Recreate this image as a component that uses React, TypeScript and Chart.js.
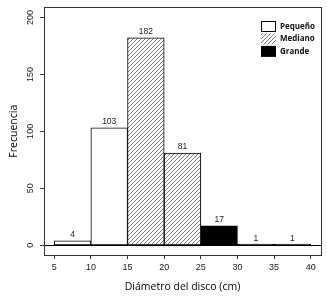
import React, { useEffect, useRef } from "react";
import { Chart, registerables } from "chart.js";

Chart.register(...registerables);

const BIN_STARTS = [5, 10, 15, 20, 25, 30, 35];
const BIN_WIDTH = 5;
const PEQUENO: (number | null)[] = [4, 103, null, null, null, null, null];
const MEDIANO: (number | null)[] = [null, null, 182, 81, null, null, null];
const GRANDE: (number | null)[] = [null, null, null, null, 17, 1, 1];
const SERIES_LABELS = ["Pequeño", "Mediano", "Grande"];
const X_TICKS = [5, 10, 15, 20, 25, 30, 35, 40];
const Y_TICKS = [0, 50, 100, 150, 200];
const X_TITLE = "Diámetro del disco (cm)";
const Y_TITLE = "Frecuencia";

const TICK_FONT = '"Liberation Sans", Arial, sans-serif';
const TITLE_FONT = '"Open Sans", "Noto Sans", sans-serif';

function toPoints(arr: (number | null)[]) {
  const pts: { x: number; y: number }[] = [];
  arr.forEach((v, i) => {
    if (v !== null) pts.push({ x: BIN_STARTS[i] + BIN_WIDTH / 2, y: v });
  });
  return pts;
}

function makeHatch(): CanvasPattern | string {
  const c = document.createElement("canvas");
  const s = 4;
  c.width = s;
  c.height = s;
  const g = c.getContext("2d");
  if (!g) return "#ccc";
  g.fillStyle = "#fff";
  g.fillRect(0, 0, s, s);
  g.strokeStyle = "#444";
  g.lineWidth = 0.7;
  g.beginPath();
  for (let k = -1; k <= 2; k++) {
    const c0 = k * s;
    g.moveTo(c0 - s, s * 2);
    g.lineTo(c0 + s * 2, -s);
  }
  g.stroke();
  const p = g.createPattern(c, "repeat");
  return p || "#ccc";
}

export default function App() {
  const ref = useRef<HTMLCanvasElement | null>(null);

  useEffect(() => {
    if (!ref.current) return;
    const hatch = makeHatch();
    const fills = ["#ffffff", hatch, "#000000"];

    const zeroLine = {
      id: "zeroLine",
      beforeDatasetsDraw(chart: any) {
        const { ctx, chartArea, scales } = chart;
        const y = Math.round(scales.y.getPixelForValue(0)) + 0.5;
        ctx.save();
        ctx.strokeStyle = "#000";
        ctx.lineWidth = 1;
        ctx.beginPath();
        ctx.moveTo(chartArea.left, y);
        ctx.lineTo(chartArea.right, y);
        ctx.stroke();
        ctx.restore();
      },
    };

    const valueLabels = {
      id: "valueLabels",
      afterDatasetsDraw(chart: any) {
        const { ctx } = chart;
        ctx.save();
        ctx.fillStyle = "#222";
        ctx.font = `8.5px ${TICK_FONT}`;
        ctx.textAlign = "center";
        ctx.textBaseline = "middle";
        chart.data.datasets.forEach((ds: any, di: number) => {
          const meta = chart.getDatasetMeta(di);
          meta.data.forEach((el: any, i: number) => {
            const v = ds.data[i].y;
            ctx.fillText(String(v), el.x, el.y - 6);
          });
        });
        ctx.restore();
      },
    };

    const frameAndLegend = {
      id: "frameAndLegend",
      afterDraw(chart: any) {
        const { ctx, chartArea } = chart;
        ctx.save();
        ctx.strokeStyle = "#333";
        ctx.lineWidth = 1;
        const l = Math.round(chartArea.left) + 0.5;
        const t = Math.round(chartArea.top) + 0.5;
        const r = Math.round(chartArea.right) + 0.5;
        const b = Math.round(chartArea.bottom) + 0.5;
        ctx.strokeRect(l, t, r - l, b - t);

        // legend
        const sx = chartArea.right - 60;
        const sw = 15;
        const sh = 11;
        const rowGap = 12.5;
        const y0 = chartArea.top + 13.5;
        ctx.font = `bold 8px ${TITLE_FONT}`;
        ctx.textAlign = "left";
        ctx.textBaseline = "middle";
        SERIES_LABELS.forEach((lab, i) => {
          const yy = y0 + i * rowGap;
          ctx.fillStyle = fills[i] as any;
          ctx.fillRect(sx, yy, sw, sh);
          if (i === 0) {
            ctx.strokeStyle = "#000";
            ctx.strokeRect(Math.round(sx) + 0.5, Math.round(yy) + 0.5, sw - 1, sh - 1);
          }
          ctx.fillStyle = "#111";
          ctx.fillText(lab, sx + sw + 4, yy + sh / 2);
        });
        ctx.restore();
      },
    };

    const chart = new Chart(ref.current, {
      type: "bar",
      data: {
        datasets: [PEQUENO, MEDIANO, GRANDE].map((arr, i) => ({
          label: SERIES_LABELS[i],
          data: toPoints(arr) as any,
          backgroundColor: fills[i] as any,
          borderColor: "#000",
          borderWidth: 1,
          borderSkipped: false,
          barPercentage: 1,
          categoryPercentage: 1,
          grouped: false,
        })),
      },
      options: {
        animation: false,
        responsive: false,
        maintainAspectRatio: false,
        events: [],
        layout: { padding: { top: 7, right: 6, left: 0, bottom: 0 } },
        plugins: {
          legend: { display: false },
          tooltip: { enabled: false },
        },
        scales: {
          x: {
            type: "linear",
            min: 3.6,
            max: 41.4,
            offset: false,
            afterBuildTicks: (s: any) => {
              s.ticks = X_TICKS.map((v) => ({ value: v }));
            },
            afterFit: (s: any) => {
              s.height = 41;
            },
            grid: {
              offset: false,
              drawOnChartArea: false,
              drawTicks: true,
              tickLength: 4,
              color: "#333",
            },
            border: { display: false },
            ticks: {
              autoSkip: false,
              maxRotation: 0,
              minRotation: 0,
              padding: 3,
              color: "#1a1a1a",
              font: { family: TICK_FONT, size: 9 },
              callback: (v: any) => String(v),
            },
            title: {
              display: true,
              text: X_TITLE,
              color: "#000",
              font: { family: TITLE_FONT, size: 10.5 },
              padding: { top: 0, bottom: 3 },
            },
          },
          y: {
            type: "linear",
            min: -8.5,
            max: 208.8,
            afterBuildTicks: (s: any) => {
              s.ticks = Y_TICKS.map((v) => ({ value: v }));
            },
            afterFit: (s: any) => {
              s.width = 44;
            },
            grid: {
              drawOnChartArea: false,
              drawTicks: true,
              tickLength: 4,
              color: "#333",
            },
            border: { display: false },
            ticks: {
              autoSkip: false,
              minRotation: 90,
              maxRotation: 90,
              crossAlign: "center",
              padding: 2,
              color: "#1a1a1a",
              font: { family: TICK_FONT, size: 9 },
              callback: (v: any) => String(v),
            },
            title: {
              display: true,
              text: Y_TITLE,
              color: "#000",
              font: { family: TITLE_FONT, size: 10.5 },
              padding: { top: 8, bottom: 0 },
            },
          },
        },
      },
      plugins: [zeroLine, valueLabels, frameAndLegend],
    });

    return () => chart.destroy();
  }, []);

  return (
    <div style={{ position: "absolute", left: 0, top: 0, width: 327, height: 296, background: "#fff" }}>
      <canvas ref={ref} width={327} height={296} style={{ display: "block" }} />
    </div>
  );
}
